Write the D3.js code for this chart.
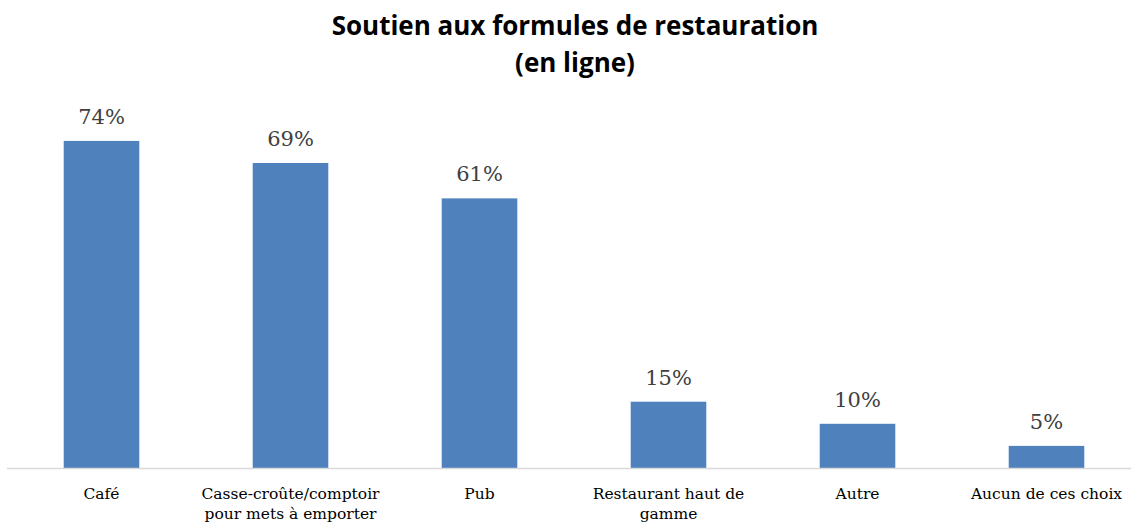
<!DOCTYPE html>
<html><head><meta charset="utf-8">
<script src="https://cdn.jsdelivr.net/npm/d3@7/dist/d3.min.js"></script>
<style>body{margin:0;background:#fff;}svg{display:block;}</style>
</head><body>
<svg id="c" width="1131" height="524"></svg>
<script>
const categories = [
  ["Café"],
  ["Casse-croûte/comptoir", "pour mets à emporter"],
  ["Pub"],
  ["Restaurant haut de", "gamme"],
  ["Autre"],
  ["Aucun de ces choix"]
];
const values = [74, 69, 61, 15, 10, 5];
const titleLines = ["Soutien aux formules de restauration", "(en ligne)"];

const svg = d3.select("#c");
const baseY = 468;
const x = d3.scaleBand().domain(d3.range(categories.length)).range([7, 1141]).padding(0);
const y = d3.scaleLinear().domain([0, 80]).range([baseY, baseY - 80 * 4.42]);
const barW = x.bandwidth() * 0.4;

svg.append("g").selectAll("rect").data(values).join("rect")
  .attr("x", (d, i) => x(i) + x.bandwidth() / 2 - barW / 2)
  .attr("y", d => y(d))
  .attr("width", barW)
  .attr("height", d => baseY - y(d))
  .attr("fill", "#4F81BD");

svg.append("line").attr("x1", 7).attr("x2", 1131).attr("y1", baseY + 0.5).attr("y2", baseY + 0.5)
  .attr("stroke", "#d9d9d9").attr("stroke-width", 1.5);

svg.append("g").selectAll("text").data(values).join("text")
  .attr("x", (d, i) => x(i) + x.bandwidth() / 2)
  .attr("y", d => y(d) - 17)
  .attr("text-anchor", "middle")
  .attr("font-family", "'DejaVu Serif', serif")
  .attr("font-size", 21)
  .attr("fill", "#404040")
  .text(d => d + "%");

const cat = svg.append("g").selectAll("text").data(categories).join("text")
  .attr("text-anchor", "middle")
  .attr("font-family", "'DejaVu Serif', serif")
  .attr("font-size", 15.5)
  .attr("fill", "#000");
cat.each(function(lines, i) {
  d3.select(this).selectAll("tspan").data(lines).join("tspan")
    .attr("x", x(i) + x.bandwidth() / 2)
    .attr("y", (l, j) => 499 + j * 20)
    .text(l => l);
});

svg.append("g").selectAll("text").data(titleLines).join("text")
  .attr("x", 575)
  .attr("y", (d, i) => 35 + i * 37)
  .attr("text-anchor", "middle")
  .attr("font-family", "'Open Sans', sans-serif")
  .attr("font-weight", "bold")
  .attr("font-size", 26)
  .attr("fill", "#000")
  .text(d => d);
</script>
</body></html>
